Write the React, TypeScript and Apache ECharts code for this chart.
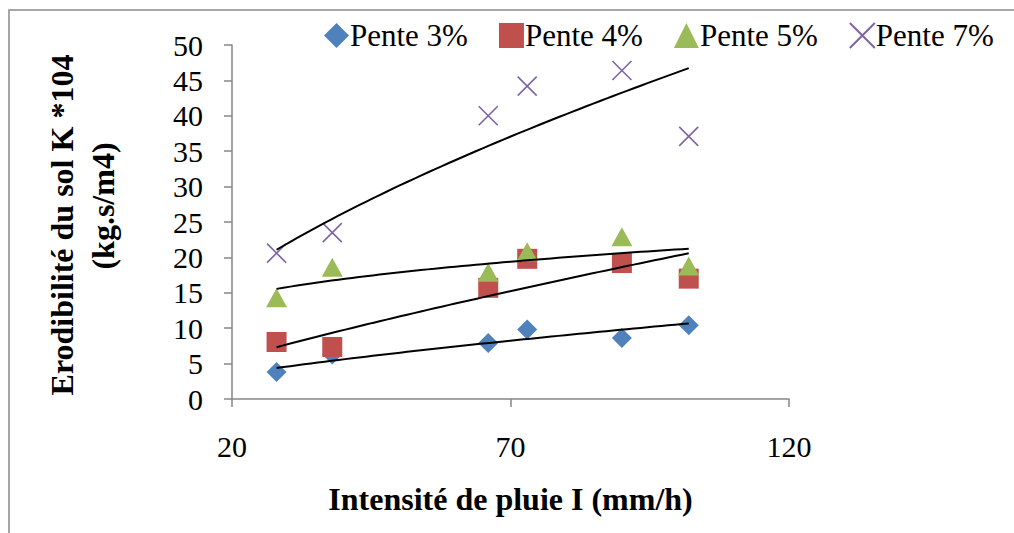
import React, { useEffect, useRef } from "react";
import * as echarts from "echarts";

// ---- data ----
const intensity = [28, 38, 66, 73, 90, 102];
const pente3 = [3.8, 6.3, 7.9, 9.8, 8.6, 10.4];
const pente4 = [8.05, 7.35, 15.7, 19.8, 19.2, 17.0];
const pente5 = [14.3, 18.6, 17.9, 20.8, 22.9, 18.8];
const pente7 = [20.6, 23.5, 40.0, 44.2, 46.4, 37.1];
const seriesNames = ["Pente 3%", "Pente 4%", "Pente 5%", "Pente 7%"];
const xTicks = { min: 20, max: 120, interval: 50 };
const yTicks = { min: 0, max: 50, interval: 5 };
const yTitleLines = ["Erodibilité du sol K *104", "(kg.s/m4)"];
const xTitle = "Intensité de pluie I (mm/h)";

const colors = ["#4F81BD", "#C0504D", "#9BBB59", "#8064A2"];
const FONT = "'Liberation Serif', 'Times New Roman', serif";
const X_PATH = "path://M0,0L20,20M20,0L0,20";

// Power trend line (least squares on ln x, ln y), as a spreadsheet does
function powerTrend(xs: number[], ys: number[]): number[][] {
  const lx = xs.map(Math.log);
  const ly = ys.map(Math.log);
  const n = xs.length;
  const mx = lx.reduce((a, b) => a + b, 0) / n;
  const my = ly.reduce((a, b) => a + b, 0) / n;
  let sxy = 0;
  let sxx = 0;
  for (let i = 0; i < n; i++) {
    sxy += (lx[i] - mx) * (ly[i] - my);
    sxx += (lx[i] - mx) * (lx[i] - mx);
  }
  const b = sxy / sxx;
  const a = Math.exp(my - b * mx);
  const x0 = Math.min(...xs);
  const x1 = Math.max(...xs);
  const out: number[][] = [];
  const steps = 60;
  for (let k = 0; k <= steps; k++) {
    const x = x0 + ((x1 - x0) * k) / steps;
    out.push([x, a * Math.pow(x, b)]);
  }
  return out;
}

export default function App() {
  const ref = useRef<HTMLDivElement>(null);

  useEffect(() => {
    document.body.style.margin = "0";
    if (!ref.current) return;
    const chart = echarts.init(ref.current, undefined, { renderer: "svg" });

    const allY = [pente3, pente4, pente5, pente7];
    const symbols: any[] = ["diamond", "rect", "triangle", X_PATH];
    const sizes: any[] = [20, 20, [21, 19], 19];

    const scatterSeries = allY.map((ys, i) => ({
      name: seriesNames[i],
      type: "scatter",
      data: intensity.map((x, j) => [x, ys[j]]),
      symbol: symbols[i],
      symbolSize: sizes[i],
      itemStyle:
        i === 3
          ? { color: colors[i], borderColor: colors[i], borderWidth: 1.6, opacity: 1 }
          : { color: colors[i], opacity: 1 },
      z: 2,
    }));

    const trendSeries = allY.map((ys, i) => ({
      name: "trend" + i,
      type: "line",
      data: powerTrend(intensity, ys),
      showSymbol: false,
      symbol: "none",
      lineStyle: { color: "#000", width: 2 },
      z: 5,
      silent: true,
    }));

    chart.setOption({
      animation: false,
      backgroundColor: "#fff",
      grid: { left: 232, right: 225, top: 45, bottom: 134 },
      legend: {
        data: seriesNames,
        left: 319,
        top: 15,
        itemWidth: 25,
        itemHeight: 25,
        itemGap: 31,
        textStyle: { fontFamily: FONT, fontSize: 31, color: "#000", padding: [0, 0, 0, -4] },
      },
      xAxis: {
        type: "value",
        min: xTicks.min,
        max: xTicks.max,
        interval: xTicks.interval,
        splitLine: { show: false },
        axisLine: { show: true, lineStyle: { color: "#868686", width: 1.5 } },
        axisTick: { show: true, length: 8, lineStyle: { color: "#868686", width: 1.5 } },
        axisLabel: { fontFamily: FONT, fontSize: 30, color: "#000", margin: 32 },
        name: xTitle,
        nameLocation: "middle",
        nameGap: 84,
        nameTextStyle: { fontFamily: FONT, fontSize: 32, fontWeight: "bold", color: "#000" },
      },
      yAxis: {
        type: "value",
        min: yTicks.min,
        max: yTicks.max,
        interval: yTicks.interval,
        splitLine: { show: false },
        axisLine: { show: true, lineStyle: { color: "#868686", width: 1.5 } },
        axisTick: { show: true, length: 8, lineStyle: { color: "#868686", width: 1.5 } },
        axisLabel: { fontFamily: FONT, fontSize: 30, color: "#000", margin: 29 },
      },
      graphic: [
        {
          type: "rect",
          silent: true,
          z: -1,
          shape: { x: 9, y: 10, width: 1300, height: 900 },
          style: { fill: "none", stroke: "#898989", lineWidth: 1.5 },
        },
        {
          type: "text",
          x: 62,
          y: 225,
          rotation: Math.PI / 2,
          style: {
            text: yTitleLines[0],
            fontFamily: FONT,
            fontSize: 32,
            fontWeight: "bold",
            fill: "#000",
            textAlign: "center",
            textVerticalAlign: "middle",
          },
        },
        {
          type: "text",
          x: 103,
          y: 206,
          rotation: Math.PI / 2,
          style: {
            text: yTitleLines[1],
            fontFamily: FONT,
            fontSize: 32,
            fontWeight: "bold",
            fill: "#000",
            textAlign: "center",
            textVerticalAlign: "middle",
          },
        },
      ],
      series: [...scatterSeries, ...trendSeries],
    });

    return () => chart.dispose();
  }, []);

  return <div ref={ref} style={{ width: 1014, height: 533 }} />;
}
